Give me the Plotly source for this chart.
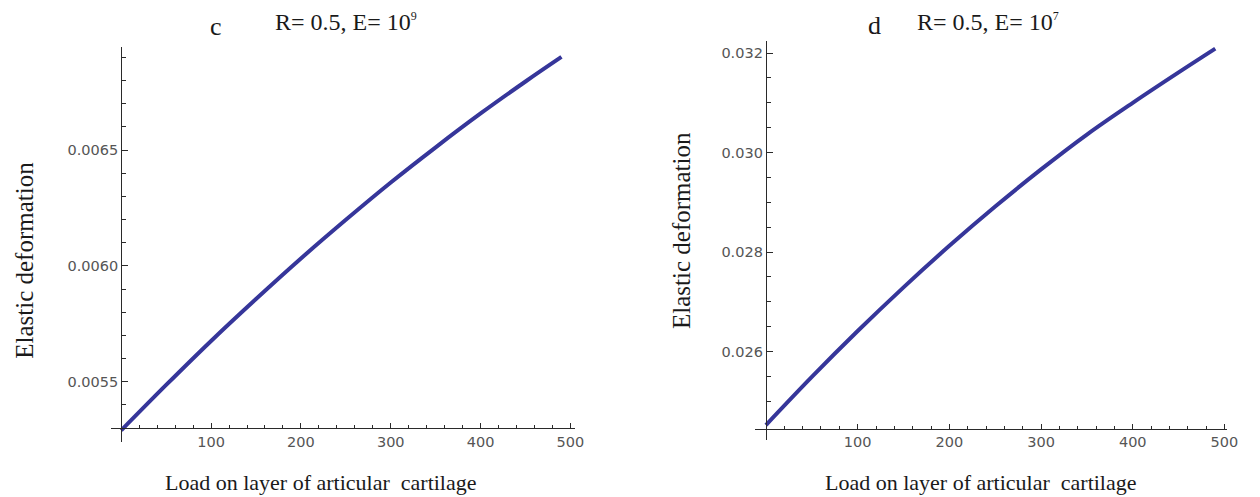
import plotly.graph_objects as go

W, H = 1260, 497

# ---- data ----
load_c = [0, 50, 100, 150, 200, 250, 300, 350, 400, 450, 490]
deform_c = [0.00529, 0.005486, 0.005676, 0.005857, 0.006032, 0.006199,
            0.006360, 0.006512, 0.006658, 0.006796, 0.006902]

load_d = [0, 50, 100, 150, 200, 250, 300, 350, 400, 450, 490]
deform_d = [0.02452, 0.025488, 0.026411, 0.027290, 0.028125, 0.028915,
            0.029661, 0.030362, 0.031000, 0.031612, 0.032090]

x_major = [100, 200, 300, 400, 500]
x_minor = [v for v in range(20, 501, 20) if v % 100]
y_major_c = [0.0055, 0.0060, 0.0065]
y_major_c_text = ["0.0055", "0.0060", "0.0065"]
y_minor_c = [round(0.0053 + 0.0001 * i, 4) for i in range(1, 17)]
y_major_d = [0.026, 0.028, 0.030, 0.032]
y_major_d_text = ["0.026", "0.028", "0.030", "0.032"]
y_minor_d = [round(0.0245 + 0.0005 * i, 4) for i in range(1, 16)]

LINE = "#36369a"
AX = "#2a2a2a"
TICKFONT = dict(family="DejaVu Sans", size=14.5, color="#555555")
SERIF = "Liberation Serif"


def px(x):
    return x / W


def py(y):
    return 1 - y / H


fig = go.Figure()
fig.add_trace(go.Scatter(x=load_c, y=deform_c, mode="lines", xaxis="x", yaxis="y",
                         line=dict(color=LINE, width=4, shape="spline"), showlegend=False,
                         hoverinfo="skip"))
fig.add_trace(go.Scatter(x=load_d, y=deform_d, mode="lines", xaxis="x2", yaxis="y2",
                         line=dict(color=LINE, width=4, shape="spline"), showlegend=False,
                         hoverinfo="skip"))


def xax(dom, rng, pos):
    return dict(domain=[px(dom[0]), px(dom[1])], range=rng, anchor="free", position=py(pos),
                showline=True, linecolor=AX, linewidth=1.3, showgrid=False, zeroline=False,
                tickmode="array", tickvals=x_major, ticktext=[str(v) for v in x_major],
                ticks="inside", ticklen=5, tickwidth=1.2, tickcolor=AX, tickfont=TICKFONT,
                minor=dict(tickmode="array", tickvals=x_minor, ticks="inside", ticklen=3,
                           tickwidth=1, tickcolor=AX),
                fixedrange=True)


def yax(dom, rng, pos, vals, text, minor):
    return dict(domain=[py(dom[1]), py(dom[0])], range=rng, anchor="free", position=px(pos),
                showline=True, linecolor=AX, linewidth=1.3, showgrid=False, zeroline=False,
                tickmode="array", tickvals=vals, ticktext=text,
                ticks="inside", ticklen=6, tickwidth=1.2, tickcolor=AX, tickfont=TICKFONT,
                minor=dict(tickmode="array", tickvals=minor, ticks="inside", ticklen=4,
                           tickwidth=1, tickcolor=AX),
                fixedrange=True)


fig.update_layout(
    width=W, height=H,
    margin=dict(l=0, r=0, t=0, b=0),
    paper_bgcolor="white", plot_bgcolor="white",
    xaxis=xax((111.7, 580), [-11.7, 505], 428),
    yaxis=yax((47, 441.7), [0.005241, 0.006945], 122.3, y_major_c, y_major_c_text, y_minor_c),
    xaxis2=xax((761.7, 1238), [-11.9, 503], 428.7),
    yaxis2=yax((40.7, 440), [0.02422, 0.03225], 772.7, y_major_d, y_major_d_text, y_minor_d),
)


def ann(text, x, y, size, angle=0, yanchor="middle"):
    fig.add_annotation(text=text, x=px(x), y=py(y),
                       xref="paper", yref="paper", showarrow=False, textangle=angle,
                       xanchor="center", yanchor=yanchor,
                       font=dict(family=SERIF, size=size, color="#1a1a1a"))


SUP = "<sup><span style='font-size:12px'>{}</span></sup>"
ann("c", 218, 26, 26)
ann("R= 0.5, E= 10" + SUP.format("9"), 349, 22, 24)
ann("d", 882, 25, 26)
ann("R= 0.5, E= 10" + SUP.format("7"), 997, 22, 24)
ann("Load on layer of articular  cartilage", 324, 497, 22, yanchor="bottom")
ann("Load on layer of articular  cartilage", 990, 497, 22, yanchor="bottom")
ann("Elastic deformation", 24, 260, 25, angle=-90)
ann("Elastic deformation", 688, 230, 25, angle=-90)

fig.write_html("out.html", config={"displayModeBar": False},
               post_script="document.body.style.margin='0';")
